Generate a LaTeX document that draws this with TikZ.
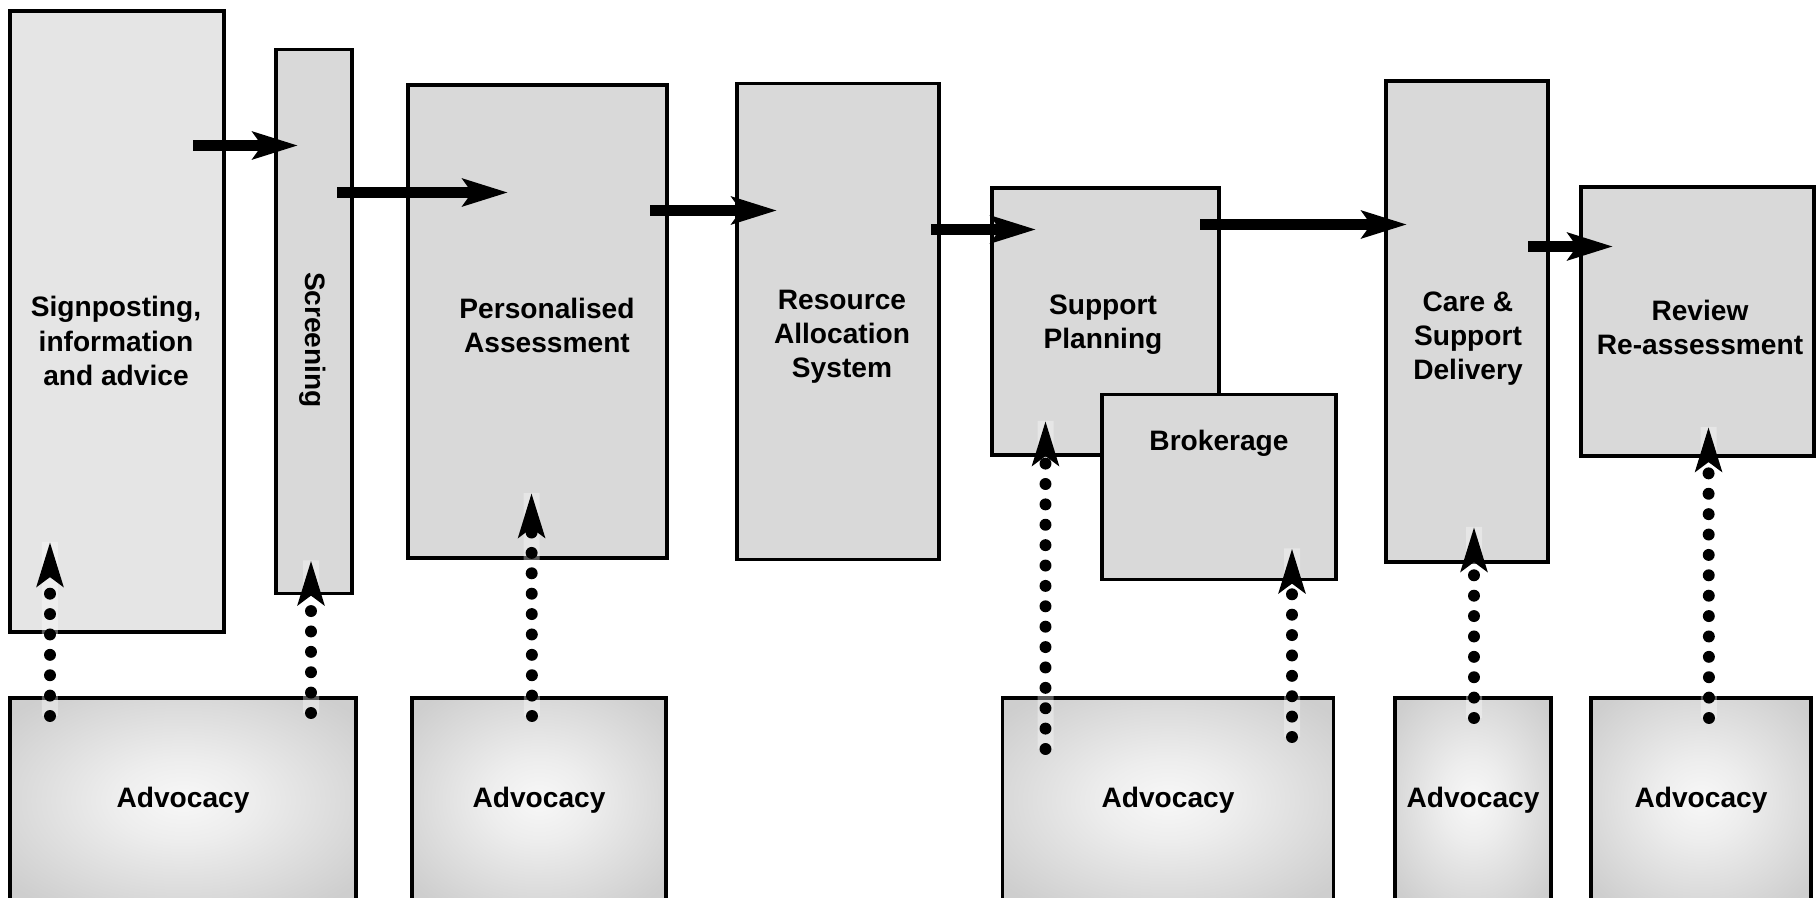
\documentclass[tikz,border=0pt]{standalone}
\usepackage{fontspec}
\setmainfont{Liberation Sans}
\usetikzlibrary{arrows.meta,positioning}
\pgfdeclareradialshading{advglow}{\pgfpointorigin}{color(0bp)=(black!3); color(10bp)=(black!7); color(32bp)=(black!19); color(50bp)=(black!21)}

\begin{document}
\begin{tikzpicture}[
  box/.style  = {rectangle, draw=black, fill=black!15, line width=0.9pt,
                 inner sep=0pt, outer sep=0pt},
  adv/.style  = {rectangle, draw=black, shade, shading=advglow, line width=0.9pt,
                 inner sep=0pt, outer sep=0pt, minimum height=2.04cm,
                 font=\bfseries\fontsize{8}{9.7}\selectfont},
  txt/.style  = {font=\bfseries\fontsize{8}{9.7}\selectfont, align=center, inner sep=0pt},
  flow/.style = {-{Stealth[length=4.5mm, width=2.7mm, inset=0.9mm]}, line width=3.4pt},
  link/.style = {-{Stealth[length=4.4mm, width=2.6mm, inset=0.9mm]}, line width=3.4pt, line cap=round,
                 dash pattern=on 0pt off 5.8pt,
                 preaction={draw=white, opacity=0.35, line width=0.16cm, solid, line cap=butt, -}},
]
\useasboundingbox (0,0) rectangle (18.2,8.97);
\clip (0,0) rectangle (18.2,8.97);

% process row
\node[box, fill=black!10, minimum width=2.14cm, minimum height=6.21cm] (sign) at (1.17,5.755) {};
\node[box, right=0.52cm of sign,   minimum width=0.76cm, minimum height=5.44cm] (scr)    {};
\node[box, right=0.56cm of scr,    minimum width=2.59cm, minimum height=4.73cm] (pers)   {};
\node[box, right=0.70cm of pers,   minimum width=2.02cm, minimum height=4.76cm] (res)    {};
\node[box, right=0.53cm of res,    minimum width=2.27cm, minimum height=2.67cm] (plan)   {};
\node[box, right=1.67cm of plan,   minimum width=1.62cm, minimum height=4.81cm] (care)   {};
\node[box, right=0.33cm of care,   minimum width=2.33cm, minimum height=2.69cm] (review) {};
\node[box, minimum width=2.34cm, minimum height=1.85cm] (broker) at (12.19,4.10) {};

\node[txt]             (sign-t)   at (1.16,5.56)  {Signposting,\\information\\and advice};
\node[txt, rotate=-90] (scr-t)    at (3.13,5.57)  {Screening};
\node[txt]             (pers-t)   at (5.47,5.72)  {Personalised\\Assessment};
\node[txt]             (res-t)    at (8.42,5.60)  {Resource\\Allocation\\System};
\node[txt]             (plan-t)   at (11.03,5.72) {Support\\Planning};
\node[txt]             (broker-t) at (12.19,4.54) {Brokerage};
\node[txt]             (care-t)   at (14.68,5.58) {Care \&\\Support\\Delivery};
\node[txt]             (review-t) at (17.00,5.70) {Review\\Re-assessment};

% advocacy row
\node[adv, minimum width=3.46cm] (adv1) at (1.83,0.97)  {Advocacy};
\node[adv, minimum width=2.54cm] (adv2) at (5.39,0.97)  {Advocacy};
\node[adv, minimum width=3.31cm] (adv3) at (11.68,0.97) {Advocacy};
\node[adv, minimum width=1.56cm] (adv4) at (14.73,0.97) {Advocacy};
\node[adv, minimum width=2.20cm] (adv5) at (17.01,0.97) {Advocacy};

% flow between stages
\draw[flow] ([xshift=-0.31cm,yshift=1.76cm]sign.east) -- ([xshift=0.22cm,yshift=1.76cm]scr.west);
\draw[flow] ([xshift=-0.15cm,yshift=1.29cm]scr.east)  -- ([xshift=1.00cm,yshift=1.29cm]pers.west);
\draw[flow] ([xshift=-0.17cm,yshift=1.11cm]pers.east) -- ([xshift=0.40cm,yshift=1.11cm]res.west);
\draw[flow] ([xshift=-0.08cm,yshift=0.92cm]res.east)  -- ([xshift=0.44cm,yshift=0.92cm]plan.west);
\draw[flow] ([xshift=-0.19cm,yshift=0.97cm]plan.east) -- ([xshift=0.21cm,yshift=0.97cm]care.west);
\draw[flow] ([xshift=-0.20cm,yshift=0.75cm]care.east) -- ([xshift=0.32cm,yshift=0.75cm]review.west);

% advocacy links
\draw[link] ([xshift=0.40cm,yshift=-0.18cm]adv1.north west) -- ([xshift=0.40cm,yshift=0.90cm]sign.south west);
\draw[link] ([xshift=-0.45cm,yshift=-0.15cm]adv1.north east) -- ([xshift=-0.03cm,yshift=0.33cm]scr.south);
\draw[link] ([xshift=-0.07cm,yshift=-0.18cm]adv2.north) -- ([xshift=-0.06cm,yshift=0.65cm]pers.south);
\draw[link] ([xshift=0.43cm,yshift=-0.51cm]adv3.north west) -- ([xshift=0.535cm,yshift=0.34cm]plan.south west);
\draw[link] ([xshift=-0.415cm,yshift=-0.39cm]adv3.north east) -- ([xshift=-0.44cm,yshift=0.31cm]broker.south east);
\draw[link] ([xshift=0.01cm,yshift=-0.20cm]adv4.north) -- ([xshift=0.07cm,yshift=0.35cm]care.south);
\draw[link] ([xshift=0.08cm,yshift=-0.20cm]adv5.north) -- ([xshift=0.11cm,yshift=0.29cm]review.south);
\end{tikzpicture}
\end{document}
